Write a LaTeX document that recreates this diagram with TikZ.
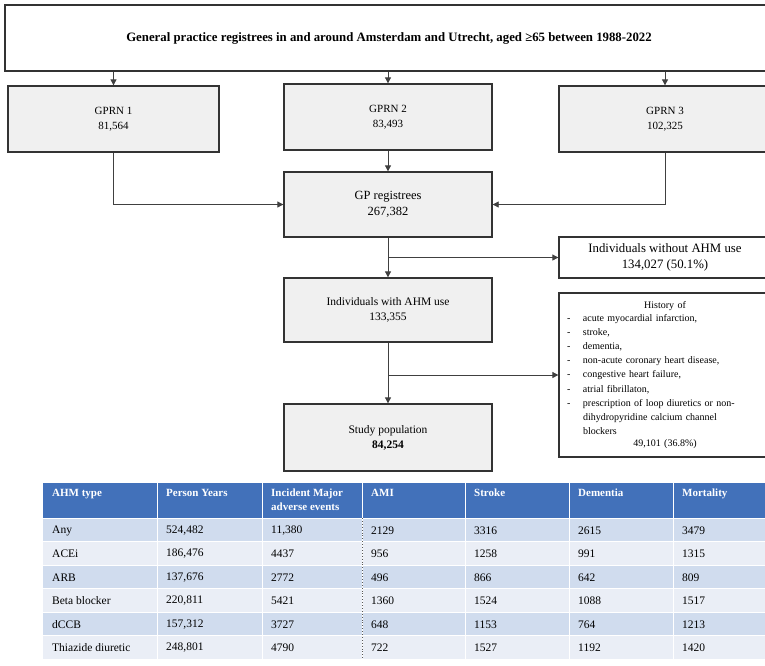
\documentclass[tikz,border=0pt]{standalone}
\usepackage{fontspec}
\setmainfont{Liberation Serif}
\usetikzlibrary{arrows.meta}
\definecolor{hdrblue}{RGB}{66,113,186}
\definecolor{bandA}{RGB}{208,220,238}
\definecolor{bandB}{RGB}{234,238,246}
\definecolor{boxgray}{RGB}{240,240,240}

\begin{document}
\begin{tikzpicture}[x=1pt, y=-1pt,
  box/.style={draw=black!80, line width=1.3pt, fill=boxgray, minimum width=208pt,
              minimum height=66pt, align=center, inner sep=2pt,
              font=\fontsize{11.5}{15}\selectfont},
  sidebox/.style={box, fill=white, minimum width=212pt},
  arr/.style={-{Triangle[length=6pt, width=6pt]}, line width=0.8pt, black!75},
  hcell/.style={anchor=north west, inner sep=0pt, align=left, text=white,
                font=\fontsize{11}{14}\selectfont\bfseries},
  cell/.style={anchor=west, inner sep=0pt, font=\fontsize{11.5}{13}\selectfont}
]
\useasboundingbox (0,0) rectangle (765,665);
\fill[white] (0,0) rectangle (765,665);

% flow chart
\node[box, fill=white, minimum width=768pt, font=\fontsize{12.8}{15}\selectfont\bfseries]
  (top) at (389,38) {General practice registrees in and around Amsterdam and Utrecht, aged ≥65 between 1988-2022};
\node[box, minimum width=211pt, font=\fontsize{11}{15}\selectfont] (gprn1) at (113.5,119) {GPRN 1\\81,564};
\node[box, font=\fontsize{11}{15}\selectfont] (gprn2) at (388,117) {GPRN 2\\83,493};
\node[sidebox, fill=boxgray, font=\fontsize{11}{15}\selectfont] (gprn3) at (665,119) {GPRN 3\\102,325};
\node[box, minimum height=65pt, font=\fontsize{12.5}{16}\selectfont] (gp) at (388,204.5) {GP registrees\\267,382};
\node[sidebox, minimum height=41pt, font=\fontsize{12.8}{16}\selectfont] (without) at (665,257.5) {Individuals without AHM use\\134,027 (50.1\%)};
\node[box, minimum height=64pt] (with) at (388,310) {Individuals with AHM use\\133,355};
\node[sidebox, minimum height=161pt, text width=196pt, inner sep=8pt,
      font=\fontsize{10}{14.2}\selectfont] (history) at (665,375) {History of\\
  \begin{tabular}{@{}p{16pt}@{}p{180pt}@{}}
  - & acute myocardial infarction,\\
  - & stroke,\\
  - & dementia,\\
  - & non-acute coronary heart disease,\\
  - & congestive heart failure,\\
  - & atrial fibrillaton,\\
  - & prescription of loop diuretics or non-\\
    & dihydropyridine calcium channel\\
    & blockers
  \end{tabular}\\
  49,101 (36.8\%)};
\node[box, minimum height=67pt] (study) at (388,437.5) {Study population\\\textbf{84,254}};

\draw[arr] (top.south -| gprn1.north) -- (gprn1.north);
\draw[arr] (top.south -| gprn2.north) -- (gprn2.north);
\draw[arr] (top.south -| gprn3.north) -- (gprn3.north);
\draw[arr] (gprn1.south) |- (gp.west);
\draw[arr] (gprn2) -- (gp);
\draw[arr] (gprn3.south) |- (gp.east);
\draw[arr] (gp) -- (with);
\draw[arr] (gp.south |- without.west) -- (without.west);
\draw[arr] (with) -- (study);
\draw[arr] (with.south |- history.west) -- (history.west);

% table
\fill[hdrblue] (43,483) rectangle (765,518);
\foreach \x/\lbl [count=\c] in {43/AHM type, 157/Person Years, 262/{Incident Major\\adverse events},
    362/AMI, 465/Stroke, 569/Dementia, 673/Mortality}
  \node[hcell] (h\c) at (\x+9,489) {\lbl};
\foreach \r/\ahm/\py/\ime/\ami/\stk/\dem/\mor in {
    0/Any/{524,482}/{11,380}/2129/3316/2615/3479,
    1/ACEi/{186,476}/4437/956/1258/991/1315,
    2/ARB/{137,676}/2772/496/866/642/809,
    3/Beta blocker/{220,811}/5421/1360/1524/1088/1517,
    4/dCCB/{157,312}/3727/648/1153/764/1213,
    5/Thiazide diuretic/{248,801}/4790/722/1527/1192/1420}{
  \pgfmathsetmacro\yt{518+23.5*\r}
  \ifodd\r \def\band{bandB}\else \def\band{bandA}\fi
  \fill[\band] (43,\yt) rectangle (765,\yt+23.5);
  \node[cell] (r\r c1) at (52,\yt+12.5) {\ahm};
  \node[cell] (r\r c2) at (166,\yt+12.5) {\py};
  \node[cell] (r\r c3) at (271,\yt+12.5) {\ime};
  \node[cell] (r\r c4) at (371,\yt+12.5) {\ami};
  \node[cell] (r\r c5) at (474,\yt+12.5) {\stk};
  \node[cell] (r\r c6) at (578,\yt+12.5) {\dem};
  \node[cell] (r\r c7) at (682,\yt+12.5) {\mor};
  \draw[white, line width=0.8pt] (43,\yt) -- (765,\yt);
}
\foreach \x in {157,262,362,465,569,673}
  \draw[white, line width=1pt] (\x,483) -- (\x,659);
\draw[black!65, dotted, line width=0.9pt] (362,518) -- (362,659);
\end{tikzpicture}
\end{document}
